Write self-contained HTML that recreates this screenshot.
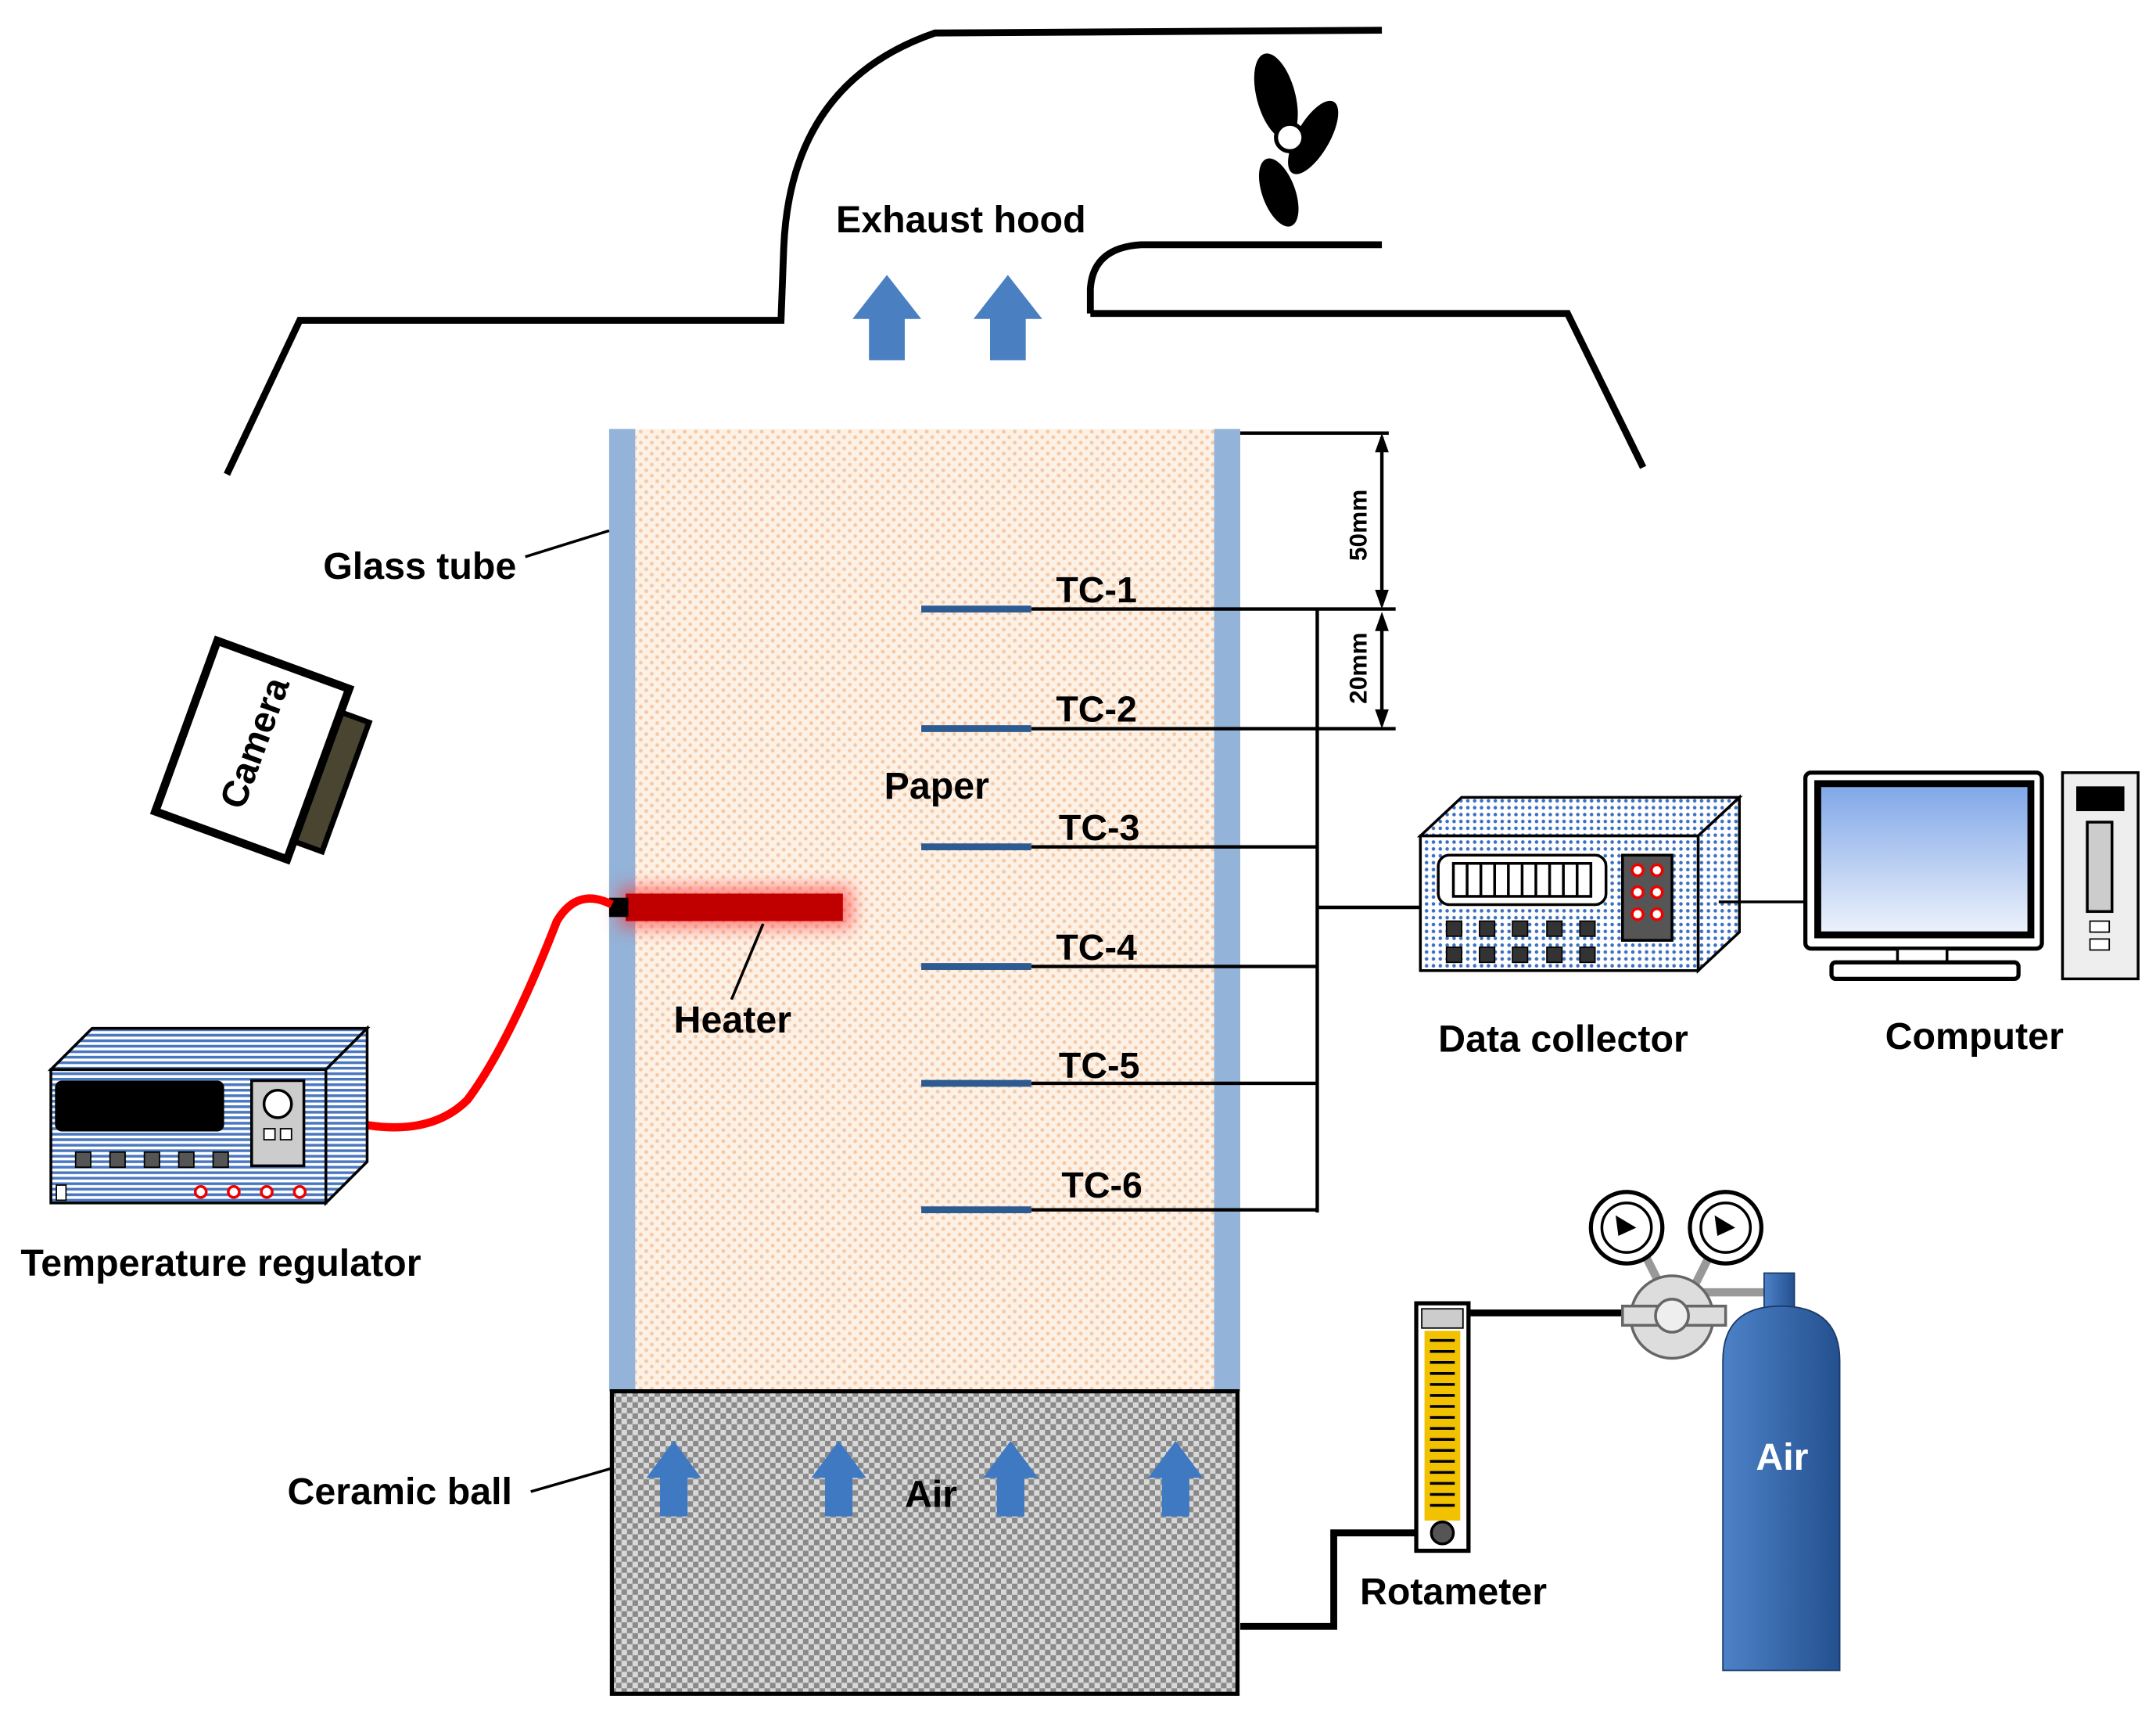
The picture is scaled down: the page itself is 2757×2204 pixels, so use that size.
<!DOCTYPE html>
<html><head><meta charset="utf-8"><style>html,body{margin:0;padding:0;background:#fff}svg{display:block}</style></head><body>
<svg width="2757" height="2204" viewBox="0 0 1568 1254" preserveAspectRatio="none" xmlns="http://www.w3.org/2000/svg" font-family="Liberation Sans, sans-serif" font-weight="bold">
<defs>
<pattern id="dots" width="8" height="8" patternUnits="userSpaceOnUse"><rect width="8" height="8" fill="#fdf1e6"/><circle cx="2" cy="2" r="1.4" fill="#f3c9a6"/><circle cx="6" cy="6" r="1.4" fill="#f3c9a6"/></pattern>
<pattern id="chk" width="8" height="8" patternUnits="userSpaceOnUse"><rect width="8" height="8" fill="#d8d8d8"/><rect width="4" height="4" fill="#8a8a8a"/><rect x="4" y="4" width="4" height="4" fill="#8a8a8a"/></pattern>
<pattern id="stripe" width="4" height="4" patternUnits="userSpaceOnUse"><rect width="4" height="4" fill="#fff"/><rect width="4" height="2" fill="#4a78c0"/></pattern>
<pattern id="blueDot" width="5" height="5" patternUnits="userSpaceOnUse"><rect width="5" height="5" fill="#fff"/><circle cx="2.5" cy="2.5" r="1.3" fill="#3a6fc4"/></pattern>
<linearGradient id="scr" x1="0" y1="0" x2="0" y2="1"><stop offset="0" stop-color="#7fa6e8"/><stop offset="1" stop-color="#eef3fb"/></linearGradient>
<linearGradient id="cyl" x1="0" y1="0" x2="1" y2="0"><stop offset="0" stop-color="#4d82c8"/><stop offset="1" stop-color="#24508f"/></linearGradient>
<filter id="glow" x="-20%" y="-200%" width="140%" height="500%"><feGaussianBlur stdDeviation="6"/></filter>
</defs>
<g fill="none" stroke="#000" stroke-width="5">
<path d="M165 345 L218 233 L568 233 L570 180 Q575 60 680 24 L1005 22"/>
<path d="M793 228 L793 210 Q795 180 830 178 L1005 178"/>
<path d="M793 228 L1140 228 L1195 340"/>
</g>
<g fill="#000">
<ellipse cx="928" cy="70" rx="14" ry="32" transform="rotate(-15 928 70)"/>
<ellipse cx="955" cy="100" rx="12" ry="30" transform="rotate(30 955 100)"/>
<ellipse cx="930" cy="140" rx="12" ry="26" transform="rotate(-20 930 140)"/>
<circle cx="938" cy="100" r="10" fill="#fff" stroke="#000" stroke-width="3"/>
</g>
<text x="608" y="169" font-size="27.5">Exhaust hood</text>
<g fill="#4a7fc1">
<path d="M632 262 L632 232 L620 232 L645 200 L670 232 L658 232 L658 262Z"/>
<path d="M720 262 L720 232 L708 232 L733 200 L758 232 L746 232 L746 262Z"/>
</g>
<rect x="462" y="312" width="421" height="700" fill="url(#dots)"/>
<rect x="443" y="312" width="19" height="700" fill="#93b3d8"/>
<rect x="883" y="312" width="19" height="700" fill="#93b3d8"/>
<rect x="445" y="1012" width="455" height="220" fill="url(#chk)" stroke="#000" stroke-width="3"/>
<g fill="#3f79c2">
<path d="M480 1103 L480 1075 L470 1075 L490 1048 L510 1075 L500 1075 L500 1103Z"/>
<path d="M600 1103 L600 1075 L590 1075 L610 1048 L630 1075 L620 1075 L620 1103Z"/>
<path d="M725 1103 L725 1075 L715 1075 L735 1048 L755 1075 L745 1075 L745 1103Z"/>
<path d="M845 1103 L845 1075 L835 1075 L855 1048 L875 1075 L865 1075 L865 1103Z"/>
</g>
<text x="658" y="1096" font-size="27.5">Air</text>
<text x="235" y="421" font-size="27.5">Glass tube</text>
<line x1="382" y1="405" x2="443" y2="386" stroke="#000" stroke-width="2"/>
<text x="209" y="1094" font-size="27.5">Ceramic ball</text>
<line x1="386" y1="1085" x2="445" y2="1068" stroke="#000" stroke-width="2"/>
<text x="643" y="581" font-size="27.5">Paper</text>
<g stroke="#000" stroke-width="2.5">
<line x1="750" y1="443" x2="1015" y2="443"/>
<line x1="750" y1="530" x2="1015" y2="530"/>
<line x1="750" y1="616" x2="958" y2="616"/>
<line x1="750" y1="703" x2="958" y2="703"/>
<line x1="750" y1="788" x2="958" y2="788"/>
<line x1="750" y1="880" x2="958" y2="880"/>
<line x1="958" y1="443" x2="958" y2="882"/>
<line x1="958" y1="660" x2="1032" y2="660"/>
<line x1="902" y1="315" x2="1010" y2="315"/>
<line x1="1005" y1="318" x2="1005" y2="440"/>
<line x1="1005" y1="448" x2="1005" y2="527"/>
</g>
<g fill="#000"><path d="M1005 315 l-5 14 h10z"/><path d="M1005 443 l-5 -14 h10z"/><path d="M1005 445 l-5 14 h10z"/><path d="M1005 530 l-5 -14 h10z"/></g>
<text transform="translate(994 408) rotate(-90)" font-size="18">50mm</text>
<text transform="translate(994 512) rotate(-90)" font-size="18">20mm</text>
<g stroke="#2e5a92" stroke-width="5">
<line x1="670" y1="443" x2="750" y2="443"/><line x1="670" y1="530" x2="750" y2="530"/><line x1="670" y1="616" x2="750" y2="616"/>
<line x1="670" y1="703" x2="750" y2="703"/><line x1="670" y1="788" x2="750" y2="788"/><line x1="670" y1="880" x2="750" y2="880"/>
</g>
<g font-size="26.5">
<text x="768" y="438">TC-1</text><text x="768" y="525">TC-2</text><text x="770" y="611">TC-3</text>
<text x="768" y="698">TC-4</text><text x="770" y="784">TC-5</text><text x="772" y="871">TC-6</text>
</g>
<rect x="450" y="645" width="170" height="30" fill="#ff3030" opacity="0.6" filter="url(#glow)"/>
<rect x="455" y="650" width="158" height="20" fill="#c00000"/>
<rect x="443" y="653" width="14" height="14" fill="#000"/>
<path d="M445 658 Q420 645 405 670 Q370 760 340 800 Q310 830 250 815" fill="none" stroke="#ff0000" stroke-width="6"/>
<line x1="555" y1="672" x2="532" y2="727" stroke="#000" stroke-width="2"/>
<text x="490" y="751" font-size="27.5">Heater</text>
<path d="M37 778 L67 748 L267 748 L237 778Z" fill="url(#stripe)" stroke="#000" stroke-width="2"/>
<path d="M237 778 L267 748 L267 845 L237 875Z" fill="url(#stripe)" stroke="#000" stroke-width="2"/>
<rect x="37" y="778" width="200" height="97" fill="url(#stripe)" stroke="#000" stroke-width="2"/>
<rect x="40" y="786" width="123" height="37" rx="5" fill="#000"/>
<rect x="183" y="786" width="38" height="62" fill="#ccc" stroke="#000" stroke-width="2"/>
<circle cx="202" cy="803" r="10" fill="#fff" stroke="#000" stroke-width="2"/>
<rect x="192" y="821" width="8" height="8" fill="#fff" stroke="#000"/><rect x="204" y="821" width="8" height="8" fill="#fff" stroke="#000"/>
<g fill="#555" stroke="#000"><rect x="55" y="838" width="11" height="11"/><rect x="80" y="838" width="11" height="11"/><rect x="105" y="838" width="11" height="11"/><rect x="130" y="838" width="11" height="11"/><rect x="155" y="838" width="11" height="11"/></g>
<g fill="#fff" stroke="#e00" stroke-width="2"><circle cx="146" cy="867" r="4"/><circle cx="170" cy="867" r="4"/><circle cx="194" cy="867" r="4"/><circle cx="218" cy="867" r="4"/></g>
<rect x="41" y="862" width="7" height="11" fill="#fff" stroke="#000"/>
<text x="15" y="928" font-size="27.5">Temperature regulator</text>
<g transform="rotate(20 190 548)">
<rect x="218" y="500" width="38" height="100" fill="#4a4530" stroke="#000" stroke-width="4"/>
<rect x="132" y="482" width="102" height="132" fill="#fff" stroke="#000" stroke-width="6"/>
<text transform="translate(192 592) rotate(-90)" font-size="27">Camera</text>
</g>
<path d="M1033 608 L1063 580 L1265 580 L1235 608Z" fill="url(#blueDot)" stroke="#000" stroke-width="2"/>
<path d="M1235 608 L1265 580 L1265 678 L1235 706Z" fill="url(#blueDot)" stroke="#000" stroke-width="2"/>
<rect x="1033" y="608" width="202" height="98" fill="url(#blueDot)" stroke="#000" stroke-width="2"/>
<rect x="1046" y="622" width="122" height="36" rx="8" fill="#fff" stroke="#000" stroke-width="2"/>
<rect x="1057" y="628" width="100" height="24" fill="#fff" stroke="#000" stroke-width="2"/>
<g stroke="#000" stroke-width="2"><line x1="1067" y1="628" x2="1067" y2="652"/><line x1="1077" y1="628" x2="1077" y2="652"/><line x1="1087" y1="628" x2="1087" y2="652"/><line x1="1097" y1="628" x2="1097" y2="652"/><line x1="1107" y1="628" x2="1107" y2="652"/><line x1="1117" y1="628" x2="1117" y2="652"/><line x1="1127" y1="628" x2="1127" y2="652"/><line x1="1137" y1="628" x2="1137" y2="652"/><line x1="1147" y1="628" x2="1147" y2="652"/></g>
<rect x="1180" y="622" width="36" height="62" fill="#555" stroke="#000" stroke-width="2"/>
<g fill="#fff" stroke="#e00" stroke-width="2"><circle cx="1191" cy="633" r="4"/><circle cx="1205" cy="633" r="4"/><circle cx="1191" cy="649" r="4"/><circle cx="1205" cy="649" r="4"/><circle cx="1191" cy="665" r="4"/><circle cx="1205" cy="665" r="4"/></g>
<g fill="#333" stroke="#000"><rect x="1052" y="670" width="11" height="11"/><rect x="1076" y="670" width="11" height="11"/><rect x="1100" y="670" width="11" height="11"/><rect x="1125" y="670" width="11" height="11"/><rect x="1149" y="670" width="11" height="11"/>
<rect x="1052" y="689" width="11" height="11"/><rect x="1076" y="689" width="11" height="11"/><rect x="1100" y="689" width="11" height="11"/><rect x="1125" y="689" width="11" height="11"/><rect x="1149" y="689" width="11" height="11"/></g>
<text x="1046" y="765" font-size="27.5">Data collector</text>
<line x1="1250" y1="656" x2="1313" y2="656" stroke="#000" stroke-width="2"/>
<rect x="1313" y="562" width="172" height="128" rx="4" fill="#fff" stroke="#000" stroke-width="3"/>
<rect x="1322" y="570" width="155" height="110" fill="url(#scr)" stroke="#000" stroke-width="5"/>
<rect x="1380" y="690" width="36" height="14" fill="#fff" stroke="#000" stroke-width="2"/>
<rect x="1332" y="700" width="136" height="12" rx="3" fill="#fff" stroke="#000" stroke-width="3"/>
<rect x="1500" y="562" width="55" height="150" fill="#eee" stroke="#000" stroke-width="2"/>
<rect x="1510" y="572" width="35" height="18" fill="#000"/>
<rect x="1518" y="598" width="18" height="65" fill="#ccc" stroke="#000" stroke-width="2"/>
<rect x="1520" y="670" width="14" height="8" fill="#fff" stroke="#000"/><rect x="1520" y="683" width="14" height="8" fill="#fff" stroke="#000"/>
<text x="1371" y="763" font-size="27.5">Computer</text>
<path d="M902 1183 L970 1183 L970 1115 L1040 1115" fill="none" stroke="#000" stroke-width="5"/>
<line x1="1068" y1="955" x2="1185" y2="955" stroke="#000" stroke-width="5"/>
<rect x="1030" y="948" width="38" height="180" fill="#fff" stroke="#000" stroke-width="3"/>
<rect x="1036" y="968" width="26" height="138" fill="#f2c200"/>
<g stroke="#000" stroke-width="2"><line x1="1040" y1="975" x2="1058" y2="975"/><line x1="1040" y1="983" x2="1058" y2="983"/><line x1="1040" y1="991" x2="1058" y2="991"/><line x1="1040" y1="999" x2="1058" y2="999"/><line x1="1040" y1="1007" x2="1058" y2="1007"/><line x1="1040" y1="1015" x2="1058" y2="1015"/><line x1="1040" y1="1023" x2="1058" y2="1023"/><line x1="1040" y1="1031" x2="1058" y2="1031"/><line x1="1040" y1="1039" x2="1058" y2="1039"/><line x1="1040" y1="1047" x2="1058" y2="1047"/><line x1="1040" y1="1055" x2="1058" y2="1055"/><line x1="1040" y1="1063" x2="1058" y2="1063"/><line x1="1040" y1="1071" x2="1058" y2="1071"/><line x1="1040" y1="1079" x2="1058" y2="1079"/><line x1="1040" y1="1087" x2="1058" y2="1087"/><line x1="1040" y1="1095" x2="1058" y2="1095"/></g>
<rect x="1034" y="952" width="30" height="14" fill="#ccc" stroke="#000"/>
<circle cx="1049" cy="1115" r="8" fill="#555" stroke="#000" stroke-width="2"/>
<text x="989" y="1167" font-size="27.5">Rotameter</text>
<line x1="1230" y1="940" x2="1290" y2="940" stroke="#999" stroke-width="6"/>
<line x1="1195" y1="910" x2="1210" y2="940" stroke="#999" stroke-width="6"/>
<line x1="1245" y1="910" x2="1230" y2="940" stroke="#999" stroke-width="6"/>
<circle cx="1216" cy="958" r="30" fill="#ddd" stroke="#666" stroke-width="2"/>
<rect x="1180" y="950" width="75" height="14" fill="#ddd" stroke="#666" stroke-width="2"/>
<circle cx="1216" cy="957" r="12" fill="#eee" stroke="#666" stroke-width="2"/>
<circle cx="1183" cy="893" r="26" fill="#fff" stroke="#000" stroke-width="3"/>
<circle cx="1183" cy="893" r="18" fill="#fff" stroke="#000" stroke-width="2"/>
<path d="M1175 884 L1190 893 L1177 899Z" fill="#000"/>
<circle cx="1255" cy="893" r="26" fill="#fff" stroke="#000" stroke-width="3"/>
<circle cx="1255" cy="893" r="18" fill="#fff" stroke="#000" stroke-width="2"/>
<path d="M1247 884 L1262 893 L1249 899Z" fill="#000"/>
<rect x="1283" y="926" width="22" height="28" fill="url(#cyl)" stroke="#1a3a6a"/>
<path d="M1253 990 Q1253 950 1295 950 Q1338 950 1338 990 L1338 1215 L1253 1215Z" fill="url(#cyl)" stroke="#1a3a6a"/>
<text x="1277" y="1069" font-size="27.5" fill="#fff">Air</text>
</svg>
</body></html>
